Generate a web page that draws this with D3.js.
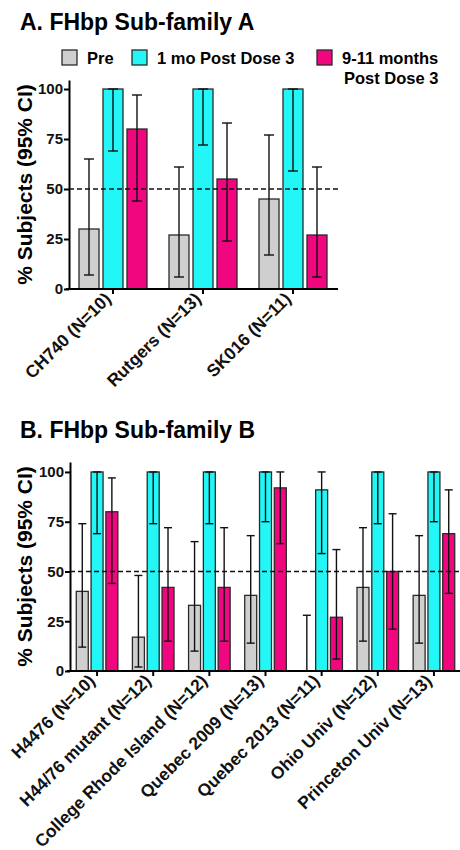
<!DOCTYPE html>
<html>
<head>
<meta charset="UTF-8">
<script src="https://d3js.org/d3.v7.min.js"></script>
<style>
  body { margin: 0; background: #fff; }
  svg { font-family: "Liberation Sans", Arial, sans-serif; font-weight: bold; }
</style>
</head>
<body>
<svg id="chart"></svg>
<script>
const width = 460;
const height = 850;

// series
const seriesNames = ["Pre", "1 mo Post Dose 3", "9-11 months"];
const seriesLines2 = ["", "", "Post Dose 3"];
const colors = ["#cfcfcf", "#22f6f6", "#f0077f"];

// panel A
const catsA = ["CH740 (N=10)", "Rutgers (N=13)", "SK016 (N=11)"];
const preA = [30, 27, 45];
const preLoA = [7, 6, 17];
const preHiA = [65, 61, 77];
const postA = [100, 100, 100];
const postLoA = [69, 72, 59];
const postHiA = [100, 100, 100];
const lateA = [80, 55, 27];
const lateLoA = [44, 24, 6];
const lateHiA = [97, 83, 61];

// panel B
const catsB = ["H4476 (N=10)", "H44/76 mutant (N=12)", "College Rhode Island (N=12)", "Quebec 2009 (N=13)",
  "Quebec 2013 (N=11)", "Ohio Univ (N=12)", "Princeton Univ (N=13)"];
const preB = [40, 17, 33, 38, 0, 42, 38];
const preLoB = [12, 2, 10, 14, 0, 15, 14];
const preHiB = [74, 48, 65, 68, 28, 72, 68];
const postB = [100, 100, 100, 100, 91, 100, 100];
const postLoB = [69, 74, 74, 75, 59, 74, 75];
const postHiB = [100, 100, 100, 100, 100, 100, 100];
const lateB = [80, 42, 42, 92, 27, 50, 69];
const lateLoB = [44, 15, 15, 64, 6, 21, 39];
const lateHiB = [97, 72, 72, 100, 61, 79, 91];

const yTicks = [0, 25, 50, 75, 100];

const svg = d3.select("#chart")
  .attr("width", width)
  .attr("height", height);

function drawPanel(opt) {
  const g = svg.append("g");

  const rows = opt.cats.map((c, i) => ({
    cat: c,
    vals: opt.series.map((s, j) => ({ j, v: s.v[i], lo: s.lo[i], hi: s.hi[i] }))
  }));

  const x0 = d3.scaleBand()
    .domain(opt.cats)
    .range(opt.xRange);

  const x1 = d3.scaleBand()
    .domain(d3.range(3))
    .range([-opt.half, opt.half])
    .paddingInner(opt.pad)
    .paddingOuter(opt.pad / 2);

  const y = d3.scaleLinear()
    .domain([0, opt.yMax])
    .range(opt.yRange);

  // title
  g.append("text")
    .attr("x", 20)
    .attr("y", opt.titleY)
    .attr("font-size", 23)
    .text(opt.title);

  // y label
  g.append("text")
    .attr("transform", `translate(32,${(opt.yRange[0] + opt.yRange[1]) / 2}) rotate(-90)`)
    .attr("text-anchor", "middle")
    .attr("font-size", 21)
    .text("% Subjects (95% CI)");

  // bars
  const grp = g.append("g")
    .selectAll("g")
    .data(rows)
    .join("g")
      .attr("transform", d => `translate(${x0(d.cat) + x0.bandwidth() / 2},0)`);

  grp.selectAll("rect")
    .data(d => d.vals)
    .join("rect")
      .attr("x", d => x1(d.j))
      .attr("y", d => y(d.v))
      .attr("width", x1.bandwidth())
      .attr("height", d => y(0) - y(d.v))
      .attr("fill", d => colors[d.j])
      .attr("stroke", "#2a2a2a")
      .attr("stroke-width", 1.3);

  // error bars
  const eb = grp.selectAll("g.eb")
    .data(d => d.vals)
    .join("g")
      .attr("class", "eb")
      .attr("transform", d => `translate(${x1(d.j) + x1.bandwidth() / 2},0)`)
      .attr("stroke", "#111")
      .attr("stroke-width", 1.4);

  eb.append("line")
    .attr("y1", d => y(d.lo))
    .attr("y2", d => y(d.hi));
  eb.append("line")
    .attr("x1", -opt.cap).attr("x2", opt.cap)
    .attr("y1", d => y(d.hi)).attr("y2", d => y(d.hi));
  eb.filter(d => d.lo > 0).append("line")
    .attr("x1", -opt.cap).attr("x2", opt.cap)
    .attr("y1", d => y(d.lo)).attr("y2", d => y(d.lo));

  // dashed 50% line
  g.append("line")
    .attr("x1", opt.xRange[0] + 1)
    .attr("x2", opt.xRange[1])
    .attr("y1", y(50))
    .attr("y2", y(50))
    .attr("stroke", "#111")
    .attr("stroke-width", 1.4)
    .attr("stroke-dasharray", "5,3");

  // y axis
  const yAxis = g.append("g")
    .attr("transform", `translate(${opt.xRange[0] + 1},0)`)
    .call(d3.axisLeft(y).tickValues(yTicks).tickSize(5).tickPadding(1).tickSizeOuter(0));
  yAxis.select(".domain").attr("stroke-width", 2);
  yAxis.selectAll(".tick line").attr("stroke-width", 2);
  yAxis.selectAll(".tick text")
    .attr("font-size", 15)
    .attr("font-family", null)
    .attr("fill", "#111");

  // x axis
  const xAxis = g.append("g")
    .attr("transform", `translate(0,${y(0)})`)
    .call(d3.axisBottom(x0).tickSize(5).tickSizeOuter(0).tickFormat(""));
  xAxis.select(".domain")
    .attr("stroke-width", 2)
    .attr("d", `M${opt.xRange[0] - 2},0H${opt.xRange[1]}`);
  xAxis.selectAll(".tick line").attr("stroke-width", 2);

  g.append("g")
    .selectAll("text")
    .data(opt.cats)
    .join("text")
      .attr("transform", d => `translate(${x0(d) + x0.bandwidth() / 2 - 1},${y(0) + 11}) rotate(-45)`)
      .attr("text-anchor", "end")
      .attr("font-size", 17.4)
      .attr("fill", "#111")
      .text(d => d);
}

drawPanel({
  title: "A. FHbp Sub-family A",
  titleY: 30,
  cats: catsA,
  series: [
    { v: preA, lo: preLoA, hi: preHiA },
    { v: postA, lo: postLoA, hi: postHiA },
    { v: lateA, lo: lateLoA, hi: lateHiA }
  ],
  xRange: [68, 338],
  yRange: [289, 80],
  yMax: 104.5,
  half: 36,
  pad: 1 / 6,
  cap: 5
});

drawPanel({
  title: "B. FHbp Sub-family B",
  titleY: 438,
  cats: catsB,
  series: [
    { v: preB, lo: preLoB, hi: preHiB },
    { v: postB, lo: postLoB, hi: postHiB },
    { v: lateB, lo: lateLoB, hi: lateHiB }
  ],
  xRange: [69, 462],
  yRange: [671, 462],
  yMax: 105,
  half: 22.2,
  pad: 0.19,
  cap: 4
});

// legend (panel A)
const legendX = [62, 132, 317];
const leg = svg.append("g")
  .selectAll("g")
  .data(seriesNames)
  .join("g")
    .attr("transform", (d, i) => `translate(${legendX[i]},50)`);

leg.append("rect")
  .attr("width", 15)
  .attr("height", 15)
  .attr("fill", (d, i) => colors[i])
  .attr("stroke", "#2a2a2a")
  .attr("stroke-width", 1.3);

leg.append("text")
  .attr("x", 25)
  .attr("y", 13.5)
  .attr("font-size", 16.5)
  .text(d => d);

leg.append("text")
  .attr("x", 27)
  .attr("y", 33.5)
  .attr("font-size", 16.5)
  .text((d, i) => seriesLines2[i]);
</script>
</body>
</html>
